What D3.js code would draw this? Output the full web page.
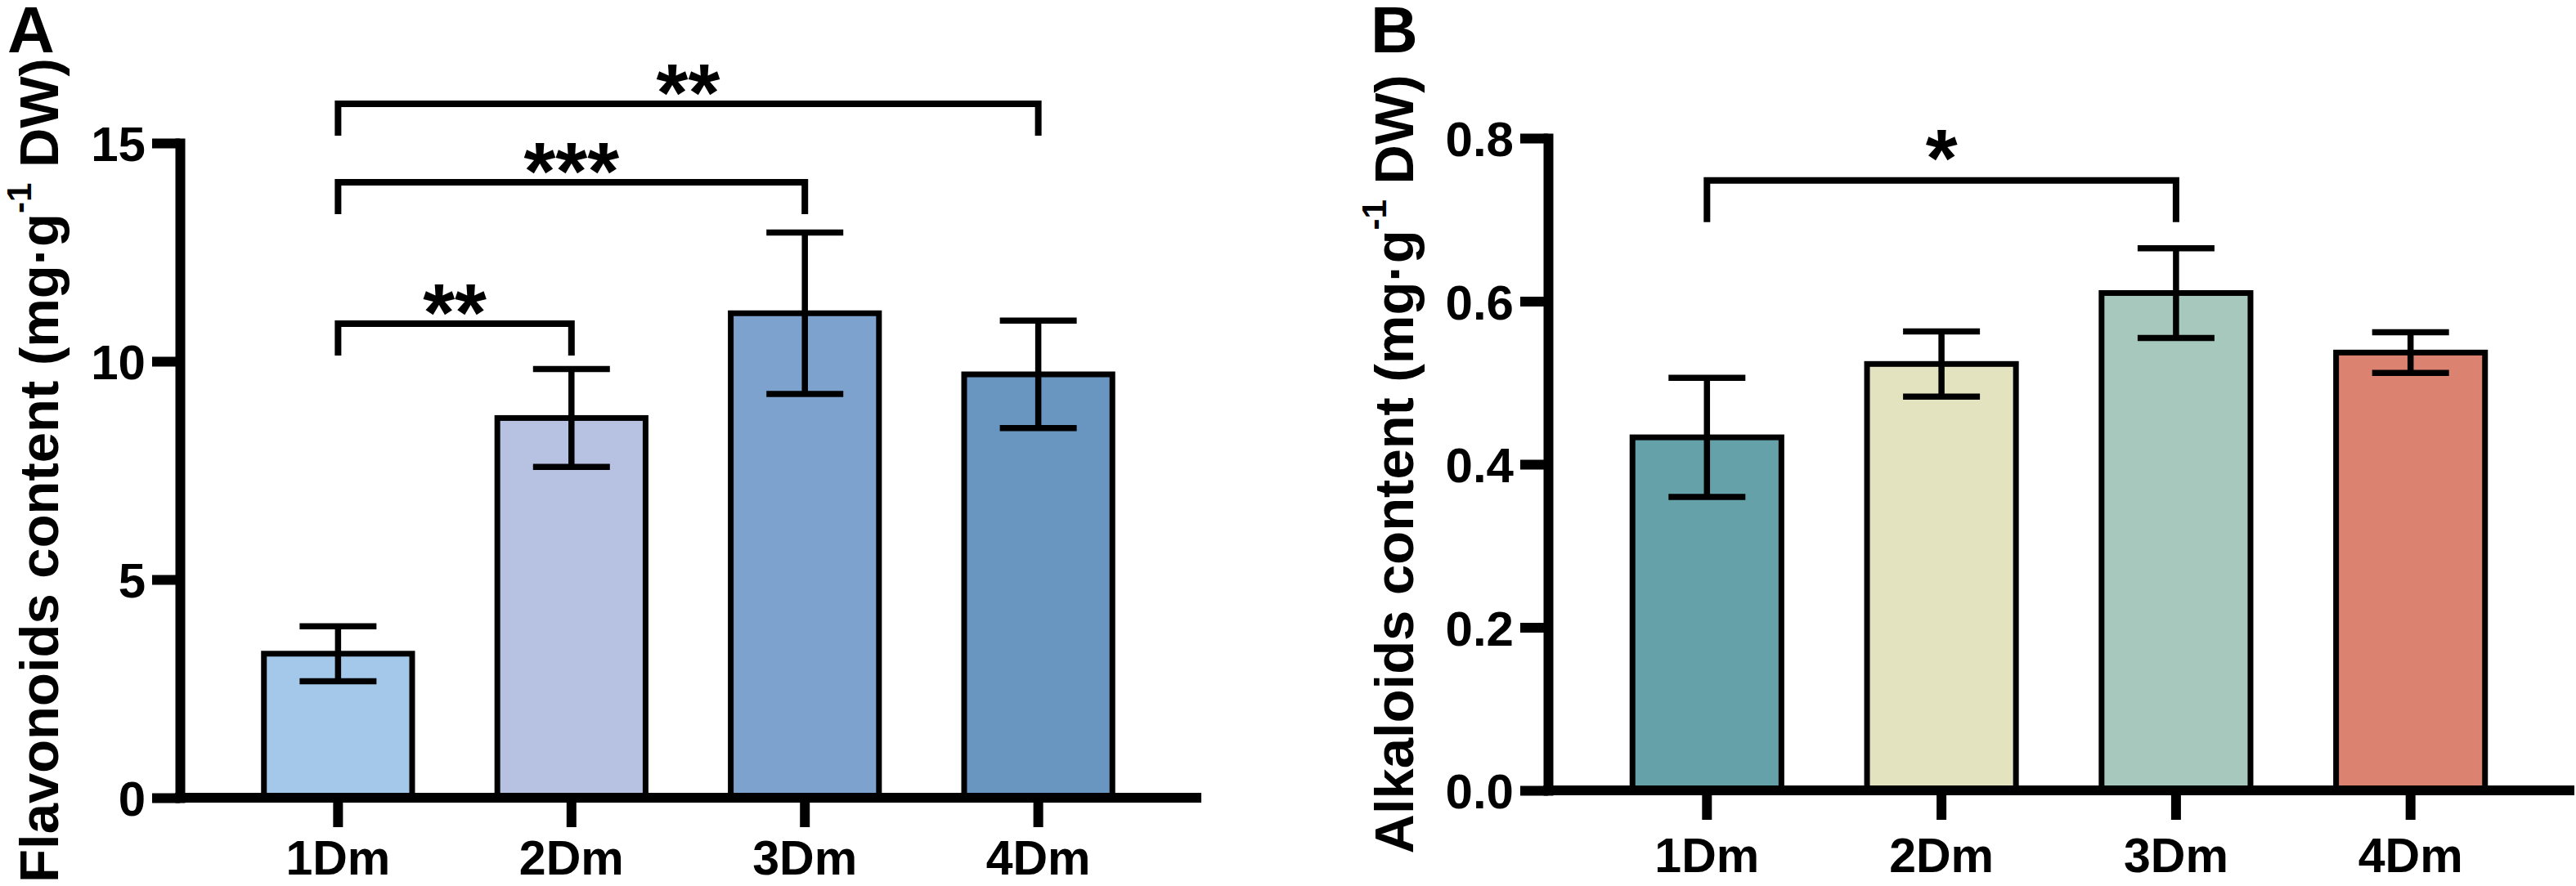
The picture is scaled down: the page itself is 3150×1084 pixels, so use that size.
<!DOCTYPE html>
<html>
<head>
<meta charset="utf-8">
<script src="https://cdn.jsdelivr.net/npm/d3@7/dist/d3.min.js"></script>
<style>
  html, body { margin: 0; padding: 0; background: #fff; }
  svg { display: block; }
  text { font-family: "Liberation Sans", Arial, Helvetica, sans-serif; font-weight: bold; fill: #000; }
</style>
</head>
<body>
<svg id="chart" width="3150" height="1084"></svg>
<script>
// ---------------- data ----------------
const categories = ["1Dm", "2Dm", "3Dm", "4Dm"];

const flavMean = [3.3, 8.7, 11.1, 9.7];
const flavErr  = [0.63, 1.12, 1.85, 1.23];
const flavTicks = [0, 5, 10, 15];
const flavColors = ["#A3C8EA", "#B7C1E2", "#7EA2CE", "#6896C1"];
const flavSig = [
  { from: 0, to: 1, level: 10.86, label: "**" },
  { from: 0, to: 2, level: 14.1,  label: "***" },
  { from: 0, to: 3, level: 15.9,  label: "**" }
];

const alkMean = [0.433, 0.523, 0.61, 0.537];
const alkErr  = [0.073, 0.04, 0.055, 0.025];
const alkTicks = [0.0, 0.2, 0.4, 0.6, 0.8];
const alkColors = ["#64A1A8", "#E4E3C0", "#A7C9BD", "#DB8270"];
const alkSig = [
  { from: 0, to: 2, level: 0.748, label: "*" }
];

// ---------------- drawing ----------------
const svg = d3.select("#chart");
svg.append("rect").attr("width", 3150).attr("height", 1084).attr("fill", "#fff");

function panel(cfg) {
  const g = svg.append("g");
  const x = d3.scaleBand().domain(categories)
    .range([cfg.x0, cfg.x1]).paddingInner(0.365).paddingOuter(0.36);
  const y = d3.scaleLinear().domain(cfg.domain).range([cfg.yBottom, cfg.yTop]);

  const data = categories.map((c, i) => ({ c, m: cfg.mean[i], e: cfg.err[i], col: cfg.colors[i] }));

  // bars
  g.selectAll("rect.bar").data(data).enter().append("rect")
    .attr("class", "bar")
    .attr("x", d => x(d.c))
    .attr("width", x.bandwidth())
    .attr("y", d => y(d.m))
    .attr("height", d => y(0) - y(d.m))
    .attr("fill", d => d.col)
    .attr("stroke", "#000")
    .attr("stroke-width", 7);

  // error bars
  const cx = d => x(d.c) + x.bandwidth() / 2;
  const eb = g.selectAll("g.err").data(data).enter().append("g").attr("class", "err")
    .attr("stroke", "#000").attr("stroke-width", 7.5);
  eb.append("line").attr("x1", cx).attr("x2", cx)
    .attr("y1", d => y(d.m - d.e)).attr("y2", d => y(d.m + d.e));
  eb.append("line").attr("x1", d => cx(d) - 47).attr("x2", d => cx(d) + 47)
    .attr("y1", d => y(d.m + d.e)).attr("y2", d => y(d.m + d.e));
  eb.append("line").attr("x1", d => cx(d) - 47).attr("x2", d => cx(d) + 47)
    .attr("y1", d => y(d.m - d.e)).attr("y2", d => y(d.m - d.e));

  // y axis
  const yAxis = d3.axisLeft(y).tickValues(cfg.ticks).tickFormat(cfg.fmt)
    .tickSize(34).tickSizeOuter(0).tickPadding(8);
  const ya = g.append("g").attr("transform", `translate(${cfg.x0},0)`).call(yAxis);
  ya.select(".domain").attr("stroke", "#000").attr("stroke-width", 12).attr("stroke-linecap", "square");
  ya.selectAll(".tick line").attr("stroke", "#000").attr("stroke-width", 12);
  ya.selectAll(".tick text").attr("font-size", 60).attr("dy", "0.36em")
    .attr("font-family", '"Liberation Sans", Arial, sans-serif').attr("font-weight", "bold").attr("fill", "#000");

  // x axis
  const xAxis = d3.axisBottom(x).tickSize(36).tickSizeOuter(0);
  const xa = g.append("g").attr("transform", `translate(0,${y(0)})`).call(xAxis);
  xa.select(".domain").attr("stroke", "#000").attr("stroke-width", 12).attr("stroke-linecap", "square")
    .attr("d", `M${cfg.x0},0H${cfg.x1}`);
  xa.selectAll(".tick line").attr("stroke", "#000").attr("stroke-width", 12);
  xa.selectAll(".tick text").attr("font-size", 59).attr("y", cfg.labelY).attr("dy", 0)
    .attr("font-family", '"Liberation Sans", Arial, sans-serif').attr("font-weight", "bold").attr("fill", "#000");

  // significance brackets
  cfg.sig.forEach(s => {
    const xa1 = x(categories[s.from]) + x.bandwidth() / 2;
    const xa2 = x(categories[s.to]) + x.bandwidth() / 2;
    const yl = y(s.level);
    g.append("path")
      .attr("d", `M${xa1},${yl + cfg.leg}V${yl}H${xa2}V${yl + cfg.leg}`)
      .attr("fill", "none").attr("stroke", "#000").attr("stroke-width", 8)
      .attr("stroke-linejoin", "miter");
    g.append("text")
      .attr("x", (xa1 + xa2) / 2)
      .attr("y", yl - cfg.starGap + 43)
      .attr("text-anchor", "middle")
      .attr("font-size", 100)
      .text(s.label);
  });

  // y title
  const t = g.append("text")
    .attr("transform", `translate(${cfg.titleX},${(y(cfg.domain[0]) + y(cfg.domain[1])) / 2}) rotate(-90)`)
    .attr("text-anchor", "middle")
    .attr("font-size", 67);
  t.append("tspan").text(cfg.title + " (mg·g");
  t.append("tspan").attr("font-size", 42).attr("dy", -33).text("-1");
  t.append("tspan").attr("dy", 33).text(" DW)");

  // panel letter
  g.append("text").attr("x", cfg.letterX).attr("y", 64).attr("font-size", 80).text(cfg.letter);
}

panel({
  x0: 220, x1: 1463, yBottom: 976, yTop: 175,
  domain: [0, 15], ticks: flavTicks, fmt: d3.format("d"),
  mean: flavMean, err: flavErr, colors: flavColors, sig: flavSig,
  leg: 39, starGap: 22, labelY: 94,
  title: "Flavonoids content", titleX: 71, letter: "A", letterX: 9
});

panel({
  x0: 1893, x1: 3142, yBottom: 967, yTop: 169,
  domain: [0, 0.8], ticks: alkTicks, fmt: d3.format(".1f"),
  mean: alkMean, err: alkErr, colors: alkColors, sig: alkSig,
  leg: 51, starGap: 36, labelY: 100,
  title: "Alkaloids content", titleX: 1728, letter: "B", letterX: 1676
});
</script>
</body>
</html>
